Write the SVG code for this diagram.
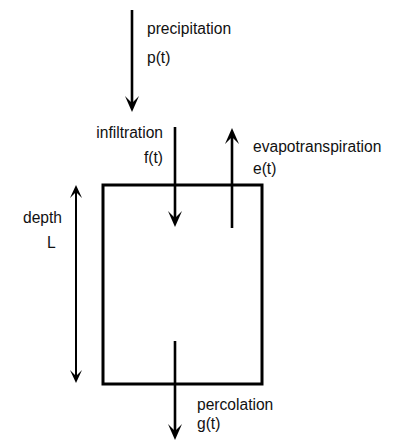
<svg xmlns="http://www.w3.org/2000/svg" width="398" height="442" viewBox="0 0 398 442">
<style>
text{font-family:"Liberation Sans",Arial,sans-serif;font-size:15.6px;fill:#111}
.flow{stroke:#000;stroke-width:2.6;fill:none}
.dim{stroke:#000;stroke-width:2;fill:none}
.box{stroke:#000;stroke-width:3;fill:#fff}
</style>
<defs>
<marker id="ah" viewBox="-17 -8 18 16" refX="-6" refY="0" markerWidth="18" markerHeight="16" markerUnits="userSpaceOnUse" orient="auto-start-reverse">
<path d="M0,0 L-16,-7 L-9,0 L-16,7 Z" fill="#000"/>
</marker>
<marker id="ahs" viewBox="-14 -7 15 14" refX="-5" refY="0" markerWidth="15" markerHeight="14" markerUnits="userSpaceOnUse" orient="auto-start-reverse">
<path d="M0,0 L-13,-6 L-7,0 L-13,6 Z" fill="#000"/>
</marker>
</defs>
<g id="soil">
<rect class="box" x="103" y="185" width="159" height="199"/>
</g>
<g id="connectors">
<line class="flow" x1="132" y1="10" x2="132" y2="106" marker-end="url(#ah)"/>
<line class="flow" x1="175" y1="127" x2="175" y2="221" marker-end="url(#ah)"/>
<line class="flow" x1="232" y1="228" x2="232" y2="134" marker-end="url(#ah)"/>
<line class="dim" x1="76" y1="190" x2="76" y2="378" marker-start="url(#ahs)" marker-end="url(#ahs)"/>
<line class="flow" x1="175" y1="341" x2="175" y2="434" marker-end="url(#ah)"/>
</g>
<g id="precipitation">
<text x="147" y="34">precipitation</text>
<text x="147" y="63">p(t)</text>
</g>
<g id="infiltration">
<text x="163" y="138" text-anchor="end">infiltration</text>
<text x="163" y="163" text-anchor="end">f(t)</text>
</g>
<g id="evapotranspiration">
<text x="253" y="152">evapotranspiration</text>
<text x="253" y="174">e(t)</text>
</g>
<g id="depth">
<text x="62" y="223" text-anchor="end">depth</text>
<text x="47" y="248">L</text>
</g>
<g id="percolation">
<text x="197" y="410">percolation</text>
<text x="197" y="429">g(t)</text>
</g>
</svg>
